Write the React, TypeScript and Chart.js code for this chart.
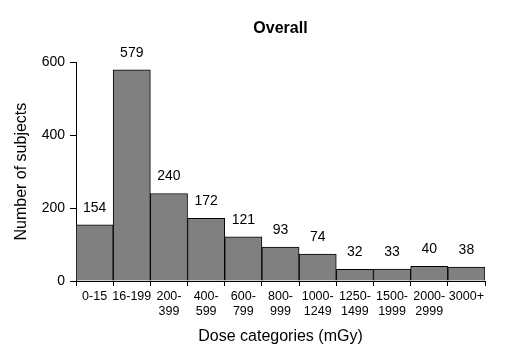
import React, { useEffect, useRef } from "react";
import { Chart, registerables } from "chart.js";

Chart.register(...registerables);

const categories: (string | string[])[] = [
  "0-15",
  "16-199",
  ["200-", "399"],
  ["400-", "599"],
  ["600-", "799"],
  ["800-", "999"],
  ["1000-", "1249"],
  ["1250-", "1499"],
  ["1500-", "1999"],
  ["2000-", "2999"],
  "3000+",
];
const counts = [154, 579, 240, 172, 121, 93, 74, 32, 33, 40, 38];
const yTicks = [0, 200, 400, 600];

const FONT = "'Liberation Sans', Arial, sans-serif";

const labelPlugin = {
  id: "barLabels",
  afterDatasetsDraw(chart: any) {
    const ctx = chart.ctx;
    const meta = chart.getDatasetMeta(0);
    ctx.save();
    ctx.fillStyle = "#000";
    ctx.font = `14px ${FONT}`;
    ctx.textAlign = "center";
    ctx.textBaseline = "middle";
    meta.data.forEach((bar: any, i: number) => {
      ctx.fillText(String(counts[i]), bar.x, bar.y - 17);
    });
    ctx.restore();
  },
};

export default function App() {
  const ref = useRef<HTMLCanvasElement>(null);
  useEffect(() => {
    if (!ref.current) return;
    const chart = new Chart(ref.current, {
      type: "bar",
      data: {
        labels: categories as any,
        datasets: [
          {
            data: counts,
            backgroundColor: "#808080",
            borderColor: "#000",
            borderWidth: 1,
            barPercentage: 1,
            categoryPercentage: 1,
          },
        ],
      },
      options: {
        animation: false,
        responsive: false,
        maintainAspectRatio: false,
        layout: { padding: { left: 0, right: 21, top: 0, bottom: 0 } },
        plugins: {
          legend: { display: false },
          tooltip: { enabled: false },
          title: {
            display: true,
            fullSize: false,
            text: "Overall",
            color: "#000",
            font: { family: FONT, size: 16, weight: "bold" },
            padding: { top: 19, bottom: 24 },
          },
        },
        scales: {
          x: {
            afterFit: (s: any) => {
              s.height = 73;
            },
            border: { display: true, color: "#000", width: 1 },
            grid: {
              display: true,
              drawOnChartArea: false,
              drawTicks: true,
              tickLength: 5,
              color: "#000",
              offset: true,
            },
            ticks: {
              color: "#000",
              font: { family: FONT, size: 12.5 },
              maxRotation: 0,
              autoSkip: false,
              padding: 3,
            },
            title: {
              display: true,
              text: "Dose categories (mGy)",
              color: "#000",
              font: { family: FONT, size: 16 },
              padding: { top: 0, bottom: 8 },
            },
          },
          y: {
            min: 0,
            max: 600,
            afterFit: (s: any) => {
              s.width = 76;
            },
            afterBuildTicks: (s: any) => {
              s.ticks = yTicks.map((v) => ({ value: v }));
            },
            border: { display: true, color: "#000", width: 1 },
            grid: {
              display: true,
              drawOnChartArea: false,
              drawTicks: true,
              tickLength: 6,
              color: "#000",
            },
            ticks: {
              color: "#000",
              font: { family: FONT, size: 14 },
              padding: 5,
            },
            title: {
              display: true,
              text: "Number of subjects",
              color: "#000",
              font: { family: FONT, size: 16 },
              padding: { top: 12, bottom: 0 },
            },
          },
        },
      },
      plugins: [labelPlugin],
    });
    return () => chart.destroy();
  }, []);
  return (
    <div style={{ position: "fixed", left: 0, top: 0, width: 506, height: 354, background: "#fff" }}>
      <canvas ref={ref} width={506} height={354} style={{ width: 506, height: 354 }} />
    </div>
  );
}
